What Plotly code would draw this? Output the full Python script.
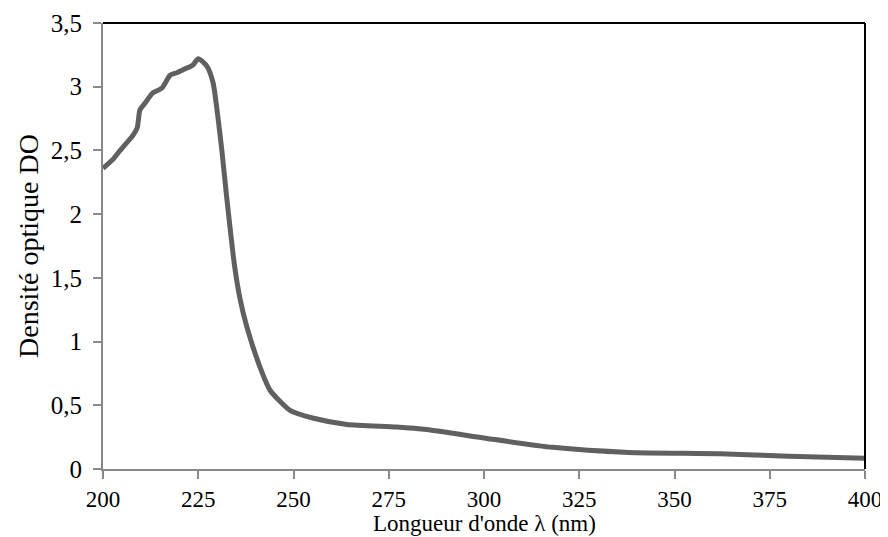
import plotly.graph_objects as go

# wavelength (nm) and optical density
wavelength = [200, 202.6, 204.5, 207.9, 209, 209.7, 211, 213, 215.5, 217.6, 219.4,
              222.3, 223.6, 225, 227.3, 228.9, 230, 231.2, 232.4, 233.4, 234.5,
              236, 237.8, 241.2, 243.8, 249.1, 255, 264, 277, 285, 300.8,
              318, 338, 362, 380, 400]
density = [2.36, 2.43, 2.50, 2.62, 2.68, 2.82, 2.87, 2.95, 2.99, 3.09, 3.11,
           3.15, 3.17, 3.22, 3.16, 3.03, 2.80, 2.50, 2.15, 1.88, 1.60,
           1.33, 1.11, 0.80, 0.62, 0.46, 0.40, 0.35, 0.33, 0.31, 0.24,
           0.17, 0.13, 0.12, 0.10, 0.085]

x_ticks = [200, 225, 250, 275, 300, 325, 350, 375, 400]
y_ticks = [0, 0.5, 1, 1.5, 2, 2.5, 3, 3.5]

font = "Liberation Serif, Times New Roman, serif"
axis_grey = "#898989"

fig = go.Figure()
fig.add_trace(go.Scatter(x=wavelength, y=density, mode="lines",
                         line=dict(color="#606060", width=5, shape="spline", smoothing=0.6),
                         showlegend=False, hoverinfo="x+y"))

fig.update_xaxes(range=[200, 400], tickvals=x_ticks, showgrid=False, zeroline=False,
                 showline=True, linecolor=axis_grey, linewidth=2, automargin=False,
                 ticks="outside", ticklen=8, tickcolor=axis_grey, tickwidth=2,
                 ticklabelstandoff=0,
                 tickfont=dict(family=font, size=23, color="black"))
fig.update_yaxes(range=[0, 3.5], tickvals=y_ticks, showgrid=False, zeroline=False,
                 showline=True, linecolor=axis_grey, linewidth=2, automargin=False,
                 ticks="outside", ticklen=8, tickcolor=axis_grey, tickwidth=2,
                 ticklabelstandoff=6,
                 tickfont=dict(family=font, size=25, color="black"),
                 title=dict(text="Densité optique DO", standoff=4,
                            font=dict(family=font, size=28, color="black")))

# x title placed by hand just under the tick labels
fig.add_annotation(text="Longueur d'onde λ (nm)", xref="paper", yref="paper",
                   x=0.5, y=-0.122, yanchor="middle", showarrow=False, borderpad=0,
                   font=dict(family=font, size=23, color="black"))

# black frame on top and right
fig.add_shape(type="line", xref="paper", yref="paper", x0=0, x1=1, y0=1, y1=1,
              line=dict(color="black", width=2))
fig.add_shape(type="line", xref="paper", yref="paper", x0=1, x1=1, y0=0, y1=1,
              line=dict(color="black", width=2))

# page body adds an 8px offset, so the figure is a bit smaller
fig.update_layout(width=880, height=529, separators=", ",
                  margin=dict(l=95, r=23, t=15, b=68),
                  paper_bgcolor="white", plot_bgcolor="white")

fig.write_html("out.html")
